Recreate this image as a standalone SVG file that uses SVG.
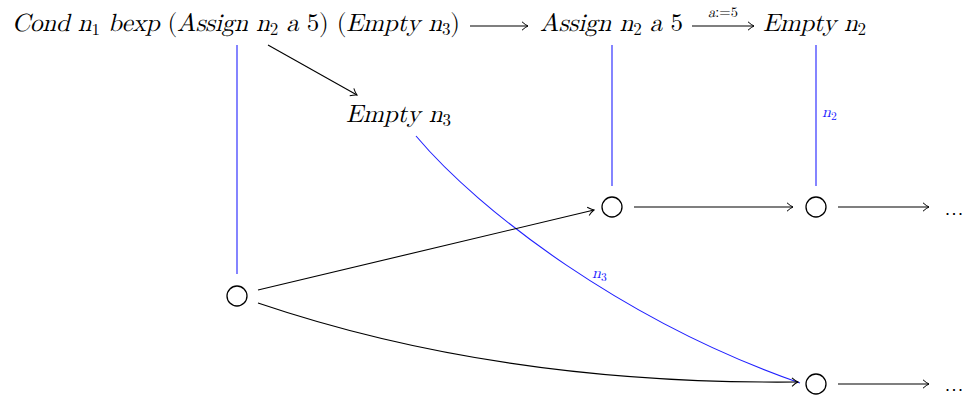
<svg xmlns="http://www.w3.org/2000/svg" width="972" height="398" viewBox="0 0 972 398">
<style>
.t{font-family:"Latin Modern Math","Liberation Serif",serif;fill:#000}
.m{font-size:25px}
.i{font-style:italic}
.r{font-style:normal}
.s{font-size:17px;font-style:normal}
.lbl{font-size:16px;font-style:italic}
.blue{fill:#1a1aff}
.edge{fill:none;stroke:#000;stroke-width:1.1}
.bl{fill:none;stroke:#2020ff;stroke-width:1.1}
.node{fill:#fff;stroke:#000;stroke-width:1.3}
.dots{font-family:"Liberation Sans",sans-serif;font-size:18px;letter-spacing:1.5px;fill:#000}
</style>
<defs>
<marker id="ah" viewBox="-6 -5 8 10" markerWidth="8" markerHeight="10" refX="1" refY="0" orient="auto" markerUnits="userSpaceOnUse">
<path d="M-5,-4.2 Q-1.5,-1 1,0 Q-1.5,1 -5,4.2" fill="none" stroke="#000" stroke-width="1"/>
</marker>
</defs>
<g id="connectors">
<line class="edge" x1="470" y1="26" x2="528" y2="26" marker-end="url(#ah)"/>
<line class="edge" x1="692" y1="26" x2="754" y2="26" marker-end="url(#ah)"/>
<text class="t" font-size="14.5" x="723" y="17" text-anchor="middle"><tspan class="i">a</tspan>:=5</text>
<line class="edge" x1="268" y1="45" x2="357" y2="95" marker-end="url(#ah)"/>
<line class="bl" x1="237" y1="45" x2="237" y2="274"/>
<line class="bl" x1="612" y1="45" x2="612" y2="186"/>
<line class="bl" x1="816" y1="45" x2="816" y2="186"/>
<text class="t lbl blue" x="822" y="117">n<tspan font-size="11.5" font-style="normal" dy="2.5">2</tspan></text>
<path class="bl" d="M416,136 C480,212 625,322 800,383"/>
<text class="t lbl blue" x="592" y="278">n<tspan font-size="11.5" font-style="normal" dy="2.5">3</tspan></text>
<line class="edge" x1="258" y1="290" x2="594" y2="210" marker-end="url(#ah)"/>
<path class="edge" d="M258,303 Q500,385 798,382" marker-end="url(#ah)"/>
<line class="edge" x1="634" y1="207" x2="793" y2="207" marker-end="url(#ah)"/>
<line class="edge" x1="838" y1="207" x2="929" y2="207" marker-end="url(#ah)"/>
<line class="edge" x1="838" y1="384" x2="929" y2="384" marker-end="url(#ah)"/>
</g>
<g id="cond">
<text class="t m" x="12" y="31" textLength="448" lengthAdjust="spacing"><tspan class="i">Cond n</tspan><tspan class="s" dy="4">1</tspan><tspan class="i" dy="-4"> bexp </tspan><tspan class="r">(</tspan><tspan class="i">Assign n</tspan><tspan class="s" dy="4">2</tspan><tspan class="i" dy="-4"> a </tspan><tspan class="r">5) (</tspan><tspan class="i">Empty n</tspan><tspan class="s" dy="4">3</tspan><tspan class="r" dy="-4">)</tspan></text>
</g>
<g id="assign">
<text class="t m" x="540" y="31" textLength="143" lengthAdjust="spacing"><tspan class="i">Assign n</tspan><tspan class="s" dy="4">2</tspan><tspan class="i" dy="-4"> a </tspan><tspan class="r">5</tspan></text>
</g>
<g id="empty2">
<text class="t m" x="763" y="31" textLength="103" lengthAdjust="spacing"><tspan class="i">Empty n</tspan><tspan class="s" dy="4">2</tspan></text>
</g>
<g id="empty3">
<text class="t m" x="346" y="122" textLength="105" lengthAdjust="spacing"><tspan class="i">Empty n</tspan><tspan class="s" dy="4">3</tspan></text>
</g>
<g id="c1"><circle class="node" cx="612" cy="207" r="10"/></g>
<g id="c2"><circle class="node" cx="816" cy="207" r="10"/></g>
<g id="c0"><circle class="node" cx="237" cy="296" r="10"/></g>
<g id="c3"><circle class="node" cx="816" cy="384" r="10"/></g>
<g id="dots1"><text class="dots" x="945" y="215">...</text></g>
<g id="dots2"><text class="dots" x="945" y="391">...</text></g>
</svg>
